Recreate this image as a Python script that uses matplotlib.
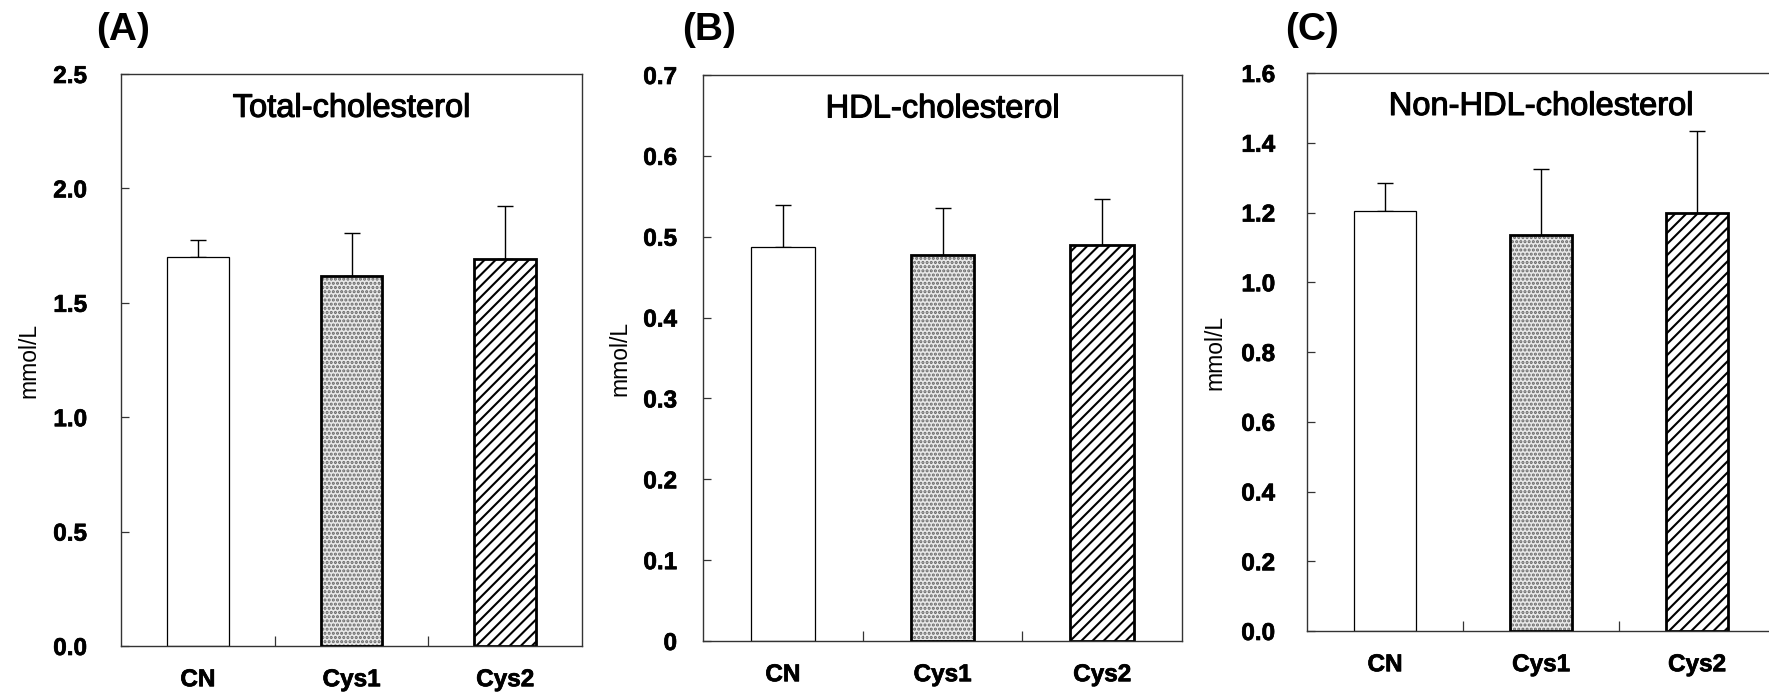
import matplotlib
matplotlib.use("Agg")
import matplotlib.pyplot as plt
import matplotlib.patheffects as pe
import numpy as np

plt.rcParams['font.family'] = ['Liberation Sans', 'DejaVu Sans']
plt.rcParams['hatch.linewidth'] = 1.5

# Groups and measurements (mean, SD) in mmol/L
groups = ["CN", "Cys1", "Cys2"]

total_mean = [1.70, 1.615, 1.69]
total_sd = [0.074, 0.19, 0.233]

hdl_mean = [0.487, 0.477, 0.490]
hdl_sd = [0.052, 0.058, 0.057]

nonhdl_mean = [1.205, 1.135, 1.200]
nonhdl_sd = [0.080, 0.190, 0.235]

panel_letters = ["(A)", "(B)", "(C)"]
panel_titles = ["Total-cholesterol", "HDL-cholesterol", "Non-HDL-cholesterol"]
y_ticks = [
    [0.0, 0.5, 1.0, 1.5, 2.0, 2.5],
    [0.0, 0.1, 0.2, 0.3, 0.4, 0.5, 0.6, 0.7],
    [0.0, 0.2, 0.4, 0.6, 0.8, 1.0, 1.2, 1.4, 1.6],
]
y_ticklabels = [
    ["0.0", "0.5", "1.0", "1.5", "2.0", "2.5"],
    ["0", "0.1", "0.2", "0.3", "0.4", "0.5", "0.6", "0.7"],
    ["0.0", "0.2", "0.4", "0.6", "0.8", "1.0", "1.2", "1.4", "1.6"],
]
y_label = "mmol/L"

W, H = 1769, 695
fig = plt.figure(figsize=(W / 100, H / 100), dpi=100)

# axes boxes in pixels: left, right, top, bottom
boxes = [(121, 582, 74, 646), (703, 1182, 75, 641), (1307, 1775, 73, 631)]
ylabel_x = [29, 620, 1215]
letter_x = [96, 682, 1285]
ytick_pad = [24.5, 18.7, 23.0]

means = [total_mean, hdl_mean, nonhdl_mean]
sds = [total_sd, hdl_sd, nonhdl_sd]

heavy = [pe.withStroke(linewidth=0.8, foreground='black')]

for i in range(3):
    l, r, t, b = boxes[i]
    ax = fig.add_axes([l / W, (H - b) / H, (r - l) / W, (b - t) / H])
    x = np.arange(len(groups))
    m = means[i]
    s = sds[i]

    # error bars (upper only)
    ax.errorbar(x, m, yerr=[np.zeros(len(s)), s], fmt='none', ecolor='black',
                elinewidth=1.0, capsize=5.5, capthick=1.0, zorder=1)

    # CN: open bar
    ax.bar(x[0], m[0], width=0.4, facecolor='white', edgecolor='black',
           linewidth=0.9, zorder=2)
    # Cys1: stippled bar
    ax.bar(x[1], m[1], width=0.4, facecolor='#e8e8e8', edgecolor='#666666',
           hatch='....', linewidth=0, zorder=2)
    ax.bar(x[1], m[1], width=0.4, facecolor='none', edgecolor='black',
           linewidth=2.0, zorder=3)
    # Cys2: diagonal hatch
    ax.bar(x[2], m[2], width=0.4, facecolor='white', edgecolor='black',
           hatch='///', linewidth=2.0, zorder=2)

    ax.set_xlim(-0.5, 2.5)
    ax.set_ylim(y_ticks[i][0], y_ticks[i][-1])
    ax.set_yticks(y_ticks[i])
    ax.set_yticklabels(y_ticklabels[i], fontsize=17.5, fontweight='bold')
    ax.tick_params(axis='y', direction='in', length=6, width=0.9,
                   pad=ytick_pad[i], color='#333333')

    ax.set_xticks(x)
    ax.set_xticklabels(groups, fontsize=17.5, fontweight='bold')
    ax.set_xticks([0.5, 1.5], minor=True)
    ax.tick_params(axis='x', which='major', length=0, pad=16)
    ax.tick_params(axis='x', which='minor', direction='in', length=7.5,
                   width=0.9, color='#333333')

    for lbl in ax.get_yticklabels() + ax.get_xticklabels():
        lbl.set_path_effects([pe.withStroke(linewidth=0.5, foreground='black')])

    for sp in ax.spines.values():
        sp.set_linewidth(1.0)
        sp.set_color('#333333')

    ax.text(0.5, 0.94, panel_titles[i], transform=ax.transAxes, ha='center',
            va='center', fontsize=23.5, path_effects=heavy)

    yc = (t + b) / 2
    fig.text(ylabel_x[i] / W, 1 - yc / H, y_label, rotation=90, ha='center',
             va='center', fontsize=16.5)
    fig.text(letter_x[i] / W, 1 - 30 / H, panel_letters[i], ha='left',
             va='center', fontsize=28, fontweight='bold')

fig.savefig("out.png", dpi=100)
